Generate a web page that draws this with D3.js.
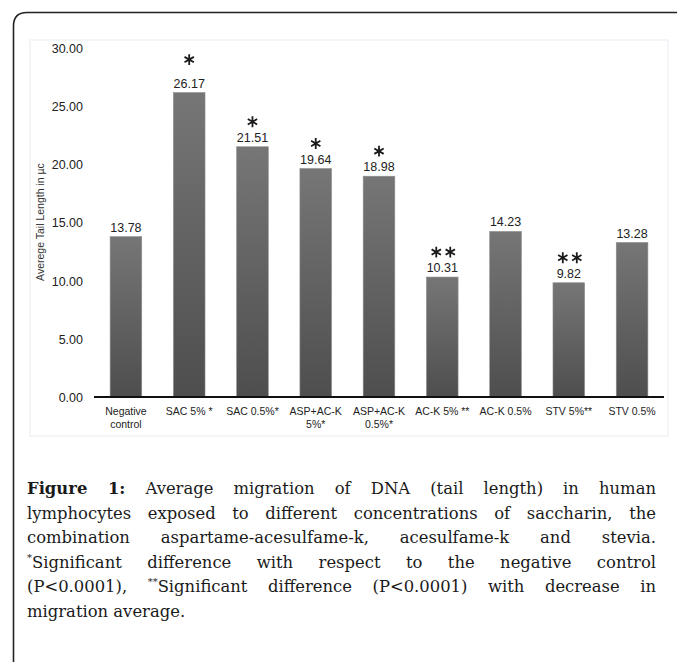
<!DOCTYPE html>
<html>
<head>
<meta charset="utf-8">
<script src="https://cdn.jsdelivr.net/npm/d3@7"></script>
<style>
  html, body { margin: 0; padding: 0; background: #fff; }
  #wrap { position: relative; width: 677px; height: 662px; overflow: hidden; }
  svg { position: absolute; left: 0; top: 0; }
  #caption { position: absolute; left: 27px; top: 477px; width: 629px;
    font-family: "DejaVu Serif", "Liberation Serif", serif; font-size: 16.4px;
    line-height: 24.6px; color: #1a1a1a; }
  #caption div { text-align: justify; text-align-last: justify; white-space: nowrap; }
  #caption div.last { text-align-last: left; }
  #caption b { font-weight: bold; }
  #caption sup { font-size: 10px; vertical-align: 7px; line-height: 0; }
</style>
</head>
<body>
<div id="wrap">
<svg id="chart" width="677" height="662"></svg>
<div id="caption"></div>
</div>
<script>
const categories = [["Negative", "control"], ["SAC 5% *"], ["SAC 0.5%*"], ["ASP+AC-K", "5%*"],
  ["ASP+AC-K", "0.5%*"], ["AC-K 5% **"], ["AC-K 0.5%"], ["STV 5%**"], ["STV 0.5%"]];
const values = [13.78, 26.17, 21.51, 19.64, 18.98, 10.31, 14.23, 9.82, 13.28];
const marks = [0, 1, 1, 1, 1, 2, 0, 2, 0]; // number of significance asterisks
const yTicks = [0, 5, 10, 15, 20, 25, 30];
const yTitle = "Averege Tail Length in µc";
const captionLines = [
  "<b>Figure 1:</b> Average migration of DNA (tail length) in human",
  "lymphocytes exposed to different concentrations of saccharin, the",
  "combination aspartame-acesulfame-k, acesulfame-k and stevia.",
  "<sup>*</sup>Significant difference with respect to the negative control",
  "(P&lt;0.0001), <sup>**</sup>Significant difference (P&lt;0.0001) with decrease in",
  "migration average."
];

const svg = d3.select("#chart");
const sans = "'Liberation Sans', Arial, sans-serif";

// frame
svg.append("path").attr("d", "M13.5,662 V26 Q13.5,12.5 27,12.5 H677")
  .attr("fill", "none").attr("stroke", "#222").attr("stroke-width", 1.6);
// faint chart area box
svg.append("rect").attr("x", 30).attr("y", 40).attr("width", 638).attr("height", 396)
  .attr("fill", "none").attr("stroke", "#f0f3f7").attr("stroke-width", 1.5);

const x = d3.scaleBand().domain(d3.range(values.length)).range([94.3, 663.7]).paddingInner(0.5).paddingOuter(0.25);
const y = d3.scaleLinear().domain([0, 30]).range([397, 48]);

const defs = svg.append("defs");
const grad = defs.append("linearGradient").attr("id", "barg").attr("x1", 0).attr("y1", 0).attr("x2", 0).attr("y2", 1);
grad.append("stop").attr("offset", "0%").attr("stop-color", "#767676");
grad.append("stop").attr("offset", "100%").attr("stop-color", "#4e4e4e");

// y axis ticks
const yAxis = d3.axisLeft(y).tickValues(yTicks).tickFormat(d3.format(".2f")).tickSize(0).tickPadding(0);
const ya = svg.append("g").attr("transform", "translate(83,0)").call(yAxis);
ya.select(".domain").remove();
ya.selectAll("text").attr("font-family", sans)
  .attr("font-size", 12.5).attr("fill", "#222").attr("dy", "0.35em");

// y title
svg.append("text").attr("transform", "translate(44,222) rotate(-90)")
  .attr("text-anchor", "middle").attr("font-family", sans)
  .attr("font-size", 10.5).attr("fill", "#333").text(yTitle);

// bars
svg.append("g").selectAll("rect").data(values).join("rect")
  .attr("x", (d, i) => x(i)).attr("width", x.bandwidth())
  .attr("y", d => y(d)).attr("height", d => y(0) - y(d))
  .attr("fill", "url(#barg)").attr("stroke", "#8c8c8c").attr("stroke-width", 0.6);

// value labels
svg.append("g").selectAll("text").data(values).join("text")
  .attr("x", (d, i) => x(i) + x.bandwidth() / 2).attr("y", d => y(d) - 5)
  .attr("text-anchor", "middle").attr("font-family", sans)
  .attr("font-size", 12.5).attr("fill", "#222").text(d => d.toFixed(2));

// significance asterisks
const star = d3.symbol(d3.symbolAsterisk, 82);
const starData = [];
values.forEach((v, i) => {
  for (let k = 0; k < marks[i]; k++) {
    const off = marks[i] > 1 ? (k - 0.5) * 14 : 0;
    starData.push({ cx: x(i) + x.bandwidth() / 2 + off + (marks[i] > 1 ? 1 : 0),
                    cy: y(v) - 25 - (i === 1 ? 8 : 0) });
  }
});
svg.append("g").selectAll("path").data(starData).join("path")
  .attr("d", star).attr("transform", d => `translate(${d.cx},${d.cy})`)
  .attr("fill", "none").attr("stroke", "#1a1a1a").attr("stroke-width", 1.8);

// x axis line
svg.append("line").attr("x1", 94).attr("x2", 664).attr("y1", y(0)).attr("y2", y(0))
  .attr("stroke", "#111").attr("stroke-width", 2.2);

// x labels
const xl = svg.append("g").selectAll("text").data(categories).join("text")
  .attr("x", (d, i) => x(i) + x.bandwidth() / 2).attr("y", 415)
  .attr("text-anchor", "middle").attr("font-family", sans)
  .attr("font-size", 10.5).attr("fill", "#222");
xl.selectAll("tspan").data(d => d).join("tspan")
  .attr("x", function() { return d3.select(this.parentNode).attr("x"); })
  .attr("dy", (d, j) => j === 0 ? 0 : 12.5).text(d => d);

// caption
d3.select("#caption").selectAll("div").data(captionLines).join("div")
  .attr("class", (d, i) => i === captionLines.length - 1 ? "last" : null)
  .html(d => d);
</script>
</body>
</html>
